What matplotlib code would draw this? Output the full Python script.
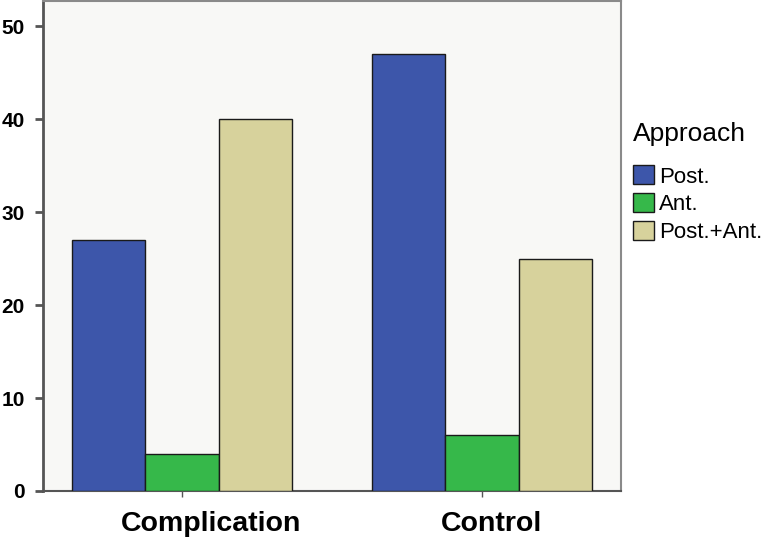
# 并列条形图：Complication / Control 两组，按 Approach 分三类
from matplotlib import pyplot as plt
import numpy as np

groups = ["Complication", "Control"]
approaches = ["Post.", "Ant.", "Post.+Ant."]
post = [27, 47]
ant = [4, 6]
post_ant = [40, 25]
colors = ["#3d56aa", "#36b84a", "#d7d29c"]

plt.rcParams['font.family'] = ['Liberation Sans', 'DejaVu Sans']

fig = plt.figure(figsize=(7.74, 5.41), dpi=100)
ax = fig.add_axes([43/774, 1-491/541, (621-43)/774, 490/541])
ax.set_facecolor("#f8f8f6")

x = np.arange(len(groups))
w = 0.244
for i, (vals, lab) in enumerate(zip([post, ant, post_ant], approaches)):
    ax.bar(x + (i-1)*w, vals, width=w, color=colors[i], edgecolor="#1a1a1a",
           linewidth=1.0, label=lab, zorder=3)

ax.set_xlim(-0.4633, 1.4633)
ax.set_ylim(0, 52.7)
ax.set_yticks([0, 10, 20, 30, 40, 50])
ax.set_xticks(x)
ax.set_xticklabels([])
# 原图的组标签略偏右于刻度
for xi, name, dx in zip(x, groups, [21, 7]):
    ax.annotate(name, xy=(xi, 0), xycoords=("data", "axes fraction"),
                xytext=(dx, -14.5), textcoords="offset points",
                ha="center", va="top", fontsize=20.5, fontweight="bold")
for t in ax.get_yticklabels():
    t.set_fontsize(15)
    t.set_fontweight("bold")
ax.tick_params(axis="y", length=6, width=2, color="#555555", pad=7)
ax.tick_params(axis="x", length=4, width=1, color="#555555")

ax.spines["left"].set_color("#555555")
ax.spines["left"].set_linewidth(2)
ax.spines["bottom"].set_color("#555555")
ax.spines["bottom"].set_linewidth(1.5)
for s in ["top", "right"]:
    ax.spines[s].set_color("#8a8a8a")
    ax.spines[s].set_linewidth(1.5)

leg = ax.legend(title="Approach", loc="upper left",
                bbox_to_anchor=(633/774, 1-122/541), bbox_transform=fig.transFigure,
                frameon=False, fontsize=16, title_fontsize=19, alignment="left",
                handlelength=0.94, handleheight=0.94, handletextpad=0.25,
                labelspacing=0.25, borderpad=0, borderaxespad=0)
leg._legend_box.sep = 14

plt.savefig("out.png", dpi=100)
